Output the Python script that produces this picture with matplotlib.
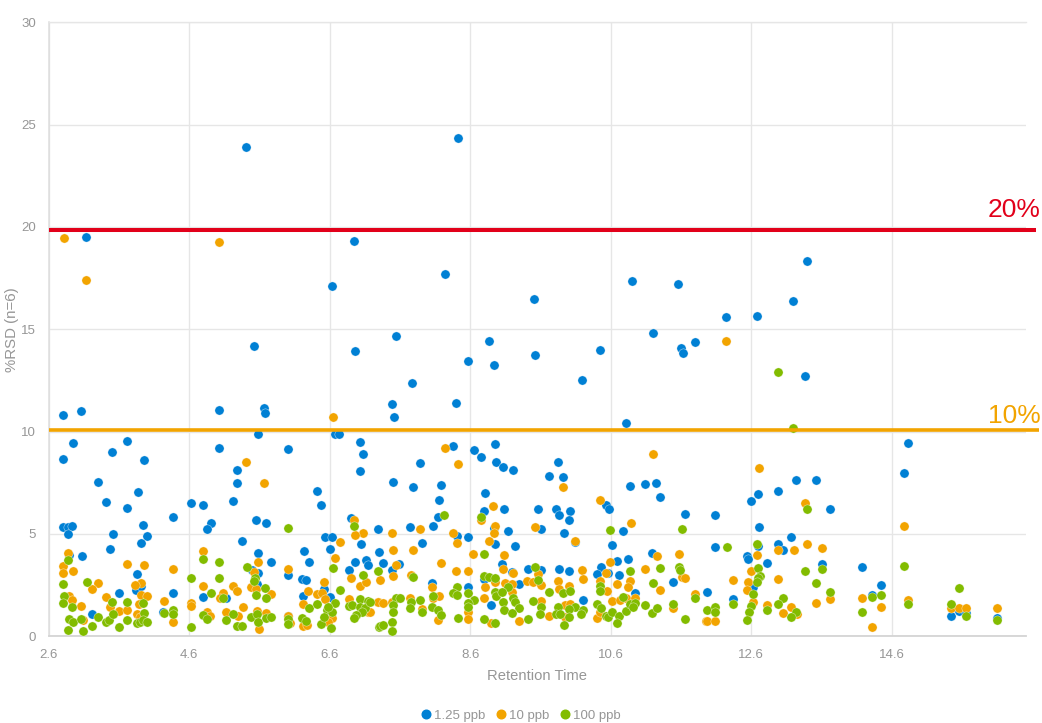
import matplotlib
matplotlib.use('Agg')
import matplotlib.pyplot as plt
from matplotlib.lines import Line2D

plt.rcParams['font.family'] = ['Liberation Sans', 'DejaVu Sans']

# values: (retention time, %RSD)
low_ppb = [
    (5.41, 23.9), (8.43, 24.36), (3.13, 19.53), (6.95, 19.33), (6.63, 17.14), (8.24, 17.72),
    (9.51, 16.5), (10.9, 17.38), (11.56, 17.23), (11.2, 14.8), (11.6, 14.11), (11.63, 13.82),
    (11.8, 14.4), (12.24, 15.58), (12.68, 15.67), (13.2, 16.4), (13.39, 18.36), (13.36, 12.7),
    (5.52, 14.16), (6.96, 13.92), (7.54, 14.65), (7.77, 12.4), (8.57, 13.43), (8.87, 14.45),
    (8.94, 13.28), (9.52, 13.72), (10.19, 12.5), (10.45, 14.0), (7.49, 11.33), (7.52, 10.7),
    (8.4, 11.38), (2.8, 10.8), (3.06, 11.0), (5.02, 11.08), (5.66, 11.14), (5.68, 10.9),
    (10.82, 10.4), (5.58, 9.87), (6.68, 9.9), (6.73, 9.9),
    (2.95, 9.46), (2.8, 8.68), (3.5, 9.02), (3.72, 9.53), (3.95, 8.62), (3.3, 7.56),
    (3.87, 7.06), (3.41, 6.54), (3.72, 6.28), (2.81, 5.33), (2.88, 5.35), (2.93, 5.37),
    (2.88, 4.99), (3.94, 5.43), (3.51, 4.99), (4.0, 4.89), (3.91, 4.55), (3.47, 4.28),
    (3.08, 3.9), (2.89, 3.97), (3.85, 3.06), (3.6, 2.11), (3.84, 2.26), (3.92, 2.47),
    (4.37, 2.11), (4.37, 5.84), (4.62, 6.5), (4.8, 6.42), (5.22, 6.59), (5.02, 9.22),
    (6.01, 9.17), (5.28, 8.11), (5.28, 7.5), (6.42, 7.12), (6.48, 6.42), (4.91, 5.54),
    (4.86, 5.25), (5.55, 5.66), (5.69, 5.54), (5.35, 4.67), (5.58, 4.05), (5.76, 3.61),
    (5.58, 3.07), (6.24, 4.16), (6.3, 3.64), (6.0, 2.98), (6.2, 2.8), (6.26, 2.76),
    (6.52, 2.31), (6.6, 1.93), (6.22, 1.98), (6.53, 4.86), (6.63, 4.83), (6.6, 4.26),
    (7.03, 9.5), (7.07, 8.91), (7.03, 8.07), (6.9, 5.8), (7.28, 5.25), (7.05, 4.49),
    (6.96, 3.64), (7.11, 3.72), (7.15, 3.5), (6.88, 3.24), (7.3, 4.13), (4.8, 1.92),
    (5.13, 1.85), (5.56, 2.54), (5.49, 3.24), (3.22, 1.09), (4.23, 1.2), (6.0, 0.99),
    (8.36, 9.28), (8.95, 9.41), (8.65, 9.09), (8.76, 8.76), (8.96, 8.54), (9.06, 8.28),
    (9.21, 8.13), (7.88, 8.47), (7.5, 7.53), (7.79, 7.3), (8.19, 7.37), (8.16, 6.68),
    (8.14, 5.84), (8.07, 5.37), (7.74, 5.32), (7.91, 4.55), (7.36, 3.56), (7.59, 3.51),
    (7.49, 3.24), (8.41, 4.91), (8.57, 4.83), (8.81, 6.98), (8.79, 6.11), (9.08, 6.21),
    (8.94, 5.3), (8.95, 4.5), (9.14, 5.15), (9.23, 4.42), (9.56, 6.21), (9.61, 5.25),
    (9.82, 6.2), (9.86, 5.93), (10.02, 6.1), (10.01, 5.66), (9.94, 5.07), (9.85, 8.5),
    (9.72, 7.85), (9.92, 7.76), (10.09, 4.62), (10.88, 7.35), (11.09, 7.46), (11.25, 7.5),
    (11.3, 6.81), (10.53, 6.41), (10.58, 6.23), (10.77, 5.15), (10.62, 4.46), (11.65, 5.98),
    (11.18, 4.05), (10.85, 3.76), (10.69, 3.67), (10.46, 3.4), (10.4, 3.02), (10.56, 3.07),
    (10.72, 2.99), (10.94, 2.13), (11.48, 2.65), (11.97, 2.15), (9.42, 3.28), (9.6, 3.24),
    (9.87, 3.28), (10.0, 3.17), (10.2, 1.76), (9.29, 2.55), (9.2, 3.15), (9.05, 3.51),
    (8.57, 2.42), (8.05, 2.59), (8.8, 2.8), (8.89, 1.53),
    (14.83, 9.43), (14.78, 7.97), (13.24, 7.66), (13.52, 7.63), (12.98, 7.12), (12.69, 6.94),
    (12.6, 6.62), (13.72, 6.24), (12.09, 5.92), (12.71, 5.33), (13.16, 4.85), (12.08, 4.37),
    (12.69, 4.41), (12.98, 4.49), (13.05, 4.23), (12.54, 3.93), (12.56, 3.76), (12.83, 3.58),
    (13.61, 3.54), (14.18, 3.4), (14.45, 2.52), (14.32, 2.0), (12.63, 2.42), (12.34, 1.82),
    (15.44, 0.98), (15.55, 1.24), (15.65, 1.15), (16.1, 0.88),
]

mid_ppb = [
    (2.82, 19.44), (3.13, 17.42), (5.03, 19.28), (6.65, 10.7), (12.24, 14.45), (5.41, 8.5),
    (5.66, 7.48), (8.24, 9.18), (8.43, 8.4), (11.2, 8.9),
    (2.88, 4.07), (2.81, 3.45), (2.8, 3.09), (2.95, 3.19), (3.3, 2.62), (3.22, 2.33),
    (3.72, 3.54), (3.95, 3.5), (3.92, 2.62), (3.83, 2.49), (3.91, 2.0), (4.0, 1.97),
    (3.41, 1.92), (2.89, 1.97), (2.93, 1.77), (3.06, 1.5), (3.09, 0.8), (3.47, 1.45),
    (3.6, 1.24), (3.72, 1.3), (3.88, 1.58), (3.85, 1.11), (3.9, 0.96), (4.37, 3.28),
    (4.24, 1.74), (4.37, 0.68), (4.62, 1.61), (4.62, 1.5), (4.8, 4.16), (4.8, 2.47),
    (5.08, 2.11), (5.04, 1.85), (5.22, 2.47), (5.28, 2.2), (4.86, 1.19), (4.9, 0.99),
    (5.12, 1.19), (5.36, 1.41), (5.29, 0.99), (5.58, 3.61), (5.52, 3.15), (5.48, 2.41),
    (5.55, 2.33), (5.76, 2.08), (5.57, 1.24), (5.69, 1.15), (5.59, 0.36), (6.01, 3.28),
    (6.0, 1.0), (6.04, 0.63), (6.22, 1.58), (6.22, 0.5), (6.29, 2.2), (6.28, 0.55),
    (6.52, 2.65), (6.42, 2.08), (6.49, 2.11), (6.53, 1.84), (6.63, 0.88), (6.58, 0.72),
    (6.74, 4.62), (6.68, 3.84), (6.95, 5.67), (7.08, 5.07), (6.96, 4.93), (6.9, 2.85),
    (7.03, 2.46), (7.11, 2.65), (6.88, 1.8), (7.15, 1.2), (7.28, 1.69),
    (7.48, 5.07), (7.5, 4.23), (7.79, 4.2), (7.88, 5.25), (7.55, 3.48), (7.5, 2.96),
    (7.32, 2.76), (7.76, 2.98), (8.19, 3.56), (8.36, 5.07), (8.41, 4.57), (8.64, 4.02),
    (8.4, 3.2), (8.57, 3.2), (8.06, 2.42), (8.81, 2.42), (8.93, 6.37), (8.76, 5.67),
    (8.95, 5.4), (8.94, 5.07), (8.87, 4.67), (9.08, 3.97), (9.06, 3.27), (9.21, 3.1),
    (8.95, 2.67), (9.09, 2.62), (9.19, 2.55), (9.2, 2.15), (8.79, 1.85), (9.52, 5.33),
    (9.41, 2.7), (9.49, 2.67), (9.56, 3.04), (9.61, 2.5), (9.6, 1.74), (9.92, 7.3),
    (10.09, 4.67), (10.19, 3.22), (10.2, 2.8), (9.85, 2.7), (9.86, 2.31), (10.01, 2.46),
    (10.44, 6.65), (10.89, 5.54), (10.59, 3.64), (10.53, 3.07), (10.45, 2.7), (10.69, 2.55),
    (10.55, 2.21), (10.62, 1.74), (10.88, 2.7), (10.85, 2.41), (10.73, 1.77), (10.82, 1.89),
    (10.94, 1.89), (11.09, 3.27), (11.26, 3.93), (11.3, 2.26), (11.57, 4.02), (11.62, 2.89),
    (11.66, 2.86), (11.8, 2.08), (11.48, 1.37), (11.96, 0.75), (7.29, 1.67), (7.36, 1.64),
    (7.48, 1.69), (7.59, 1.85), (7.74, 1.85), (7.17, 1.2), (7.91, 1.33), (8.07, 1.85),
    (8.16, 1.98), (8.14, 0.81), (8.57, 1.2), (8.57, 0.83), (8.89, 0.63), (9.29, 0.76),
    (9.72, 1.0), (9.95, 1.53), (10.02, 1.59), (9.95, 0.96), (10.4, 0.88), (10.44, 1.2),
    (12.71, 8.2), (13.37, 6.5), (12.98, 4.24), (13.21, 4.24), (13.39, 4.52), (13.61, 4.31),
    (12.68, 3.97), (12.6, 3.17), (12.34, 2.76), (12.56, 2.65), (12.54, 2.26), (12.98, 2.81),
    (12.63, 1.67), (12.83, 1.54), (13.16, 1.45), (13.05, 1.14), (13.25, 1.07), (13.52, 1.61),
    (13.72, 1.84), (14.18, 1.85), (14.45, 1.45), (14.32, 0.47), (14.78, 5.37), (14.83, 1.77),
    (11.97, 0.75), (12.08, 0.73), (15.44, 1.4), (15.55, 1.4), (15.65, 1.4), (16.1, 1.4),
]

high_ppb = [
    (12.98, 12.89), (13.2, 10.2),
    (2.88, 3.71), (6.01, 5.3), (2.8, 2.55), (3.14, 2.65), (2.82, 1.97), (2.81, 1.61),
    (2.93, 1.41), (2.89, 0.86), (2.95, 0.68), (3.06, 0.86), (2.88, 0.31), (3.09, 0.24),
    (3.22, 0.49), (3.3, 0.94), (3.41, 0.68), (3.46, 0.8), (3.51, 1.07), (3.5, 1.67),
    (3.6, 0.44), (3.72, 1.67), (3.72, 0.8), (3.94, 1.61), (3.95, 1.12), (3.85, 0.63),
    (3.9, 0.72), (3.94, 0.8), (4.0, 0.68), (4.24, 1.12), (4.37, 1.28), (4.37, 1.07),
    (4.62, 2.83), (4.62, 0.44), (4.8, 3.76), (4.91, 2.11), (4.8, 1.06), (4.86, 0.85),
    (5.02, 3.64), (5.02, 2.83), (5.08, 1.89), (5.13, 0.8), (5.22, 1.09), (5.28, 0.52),
    (5.35, 0.52), (5.42, 3.37), (5.53, 2.83), (5.52, 2.7), (5.68, 2.37), (5.55, 2.0),
    (5.69, 1.89), (5.48, 0.94), (5.57, 1.07), (5.58, 0.72), (5.69, 0.88), (5.76, 0.96),
    (6.01, 0.83), (6.0, 0.62), (6.2, 0.88), (6.26, 0.76), (6.3, 1.38), (6.42, 1.58),
    (6.48, 0.62), (6.64, 3.32), (6.74, 2.24), (6.68, 1.61), (6.56, 1.28), (6.63, 1.2),
    (6.52, 0.96), (6.62, 0.39), (6.58, 1.45), (6.95, 5.38), (7.08, 2.99), (7.03, 1.84),
    (7.15, 1.71), (6.87, 1.5), (6.92, 1.53), (7.03, 1.45), (7.1, 1.37), (7.06, 1.2),
    (6.98, 1.04), (6.95, 0.91), (7.29, 3.17), (7.3, 0.47),
    (8.23, 5.95), (8.76, 5.84), (8.8, 4.02), (7.79, 2.89), (10.59, 5.19), (11.62, 5.24),
    (9.52, 3.4), (9.56, 2.75), (8.8, 2.94), (8.87, 2.89), (8.95, 2.83), (9.14, 2.39),
    (8.41, 2.39), (8.35, 2.1), (8.41, 2.02), (8.57, 2.1), (8.65, 1.77), (8.57, 1.64),
    (8.57, 1.45), (8.07, 1.98), (8.06, 1.45), (8.14, 1.28), (8.19, 1.04), (8.42, 0.91),
    (7.88, 1.77), (7.76, 1.69), (7.74, 1.4), (7.91, 1.2), (7.54, 1.85), (7.6, 1.85),
    (7.5, 1.53), (7.5, 1.17), (7.48, 0.72), (7.31, 0.5), (7.36, 0.55), (7.49, 0.24),
    (7.17, 1.69), (8.79, 0.86), (8.95, 0.67), (8.95, 2.18), (8.97, 1.98), (9.05, 2.15),
    (9.06, 1.67), (9.21, 1.89), (9.23, 1.66), (9.29, 1.4), (9.08, 1.27), (9.2, 1.14),
    (9.42, 0.86), (9.49, 1.71), (9.61, 1.41), (9.59, 1.09), (9.72, 2.18), (9.85, 1.45),
    (9.82, 1.09), (9.88, 1.09), (9.92, 2.11), (10.02, 2.23), (10.09, 1.45), (10.0, 1.32),
    (10.0, 0.93), (9.94, 0.54), (10.2, 1.27), (10.18, 1.07), (10.44, 2.47), (10.45, 2.23),
    (10.4, 1.56), (10.46, 1.37), (10.53, 1.0), (10.56, 0.96), (10.62, 1.17), (10.72, 0.99),
    (10.69, 0.67), (10.77, 1.93), (10.88, 3.2), (10.82, 1.24), (10.87, 1.58), (10.94, 1.61),
    (10.92, 1.45), (11.09, 1.53), (11.18, 1.14), (11.26, 1.4), (11.2, 2.59), (11.3, 3.32),
    (11.48, 1.56), (11.65, 0.83), (11.57, 3.4), (11.59, 3.24), (11.8, 1.85), (11.97, 1.27),
    (13.39, 6.21), (12.25, 4.37), (12.68, 4.52), (12.7, 3.32), (12.72, 2.94), (12.7, 2.83),
    (12.68, 2.67), (12.62, 2.05), (12.6, 1.5), (12.57, 1.2), (12.54, 0.8), (12.34, 1.58),
    (12.08, 1.41), (12.09, 1.19), (12.83, 1.27), (13.05, 1.85), (12.98, 1.56), (13.24, 1.17),
    (13.16, 0.93), (13.37, 3.17), (13.52, 2.62), (13.61, 3.27), (13.72, 2.15), (14.18, 1.2),
    (14.32, 1.92), (14.45, 2.0), (14.78, 3.43), (14.83, 1.59), (15.55, 2.37), (15.44, 1.56),
    (15.65, 1.01), (16.1, 0.8),
]

series_names = ['1.25 ppb', '10 ppb', '100 ppb']
series_colors = ['#0080d4', '#f2a400', '#82bc00']
x_ticks = [2.6, 4.6, 6.6, 8.6, 10.6, 12.6, 14.6]
y_ticks = [0, 5, 10, 15, 20, 25, 30]
limit_20 = 19.87
limit_10 = 10.06

grey = '#969696'
grid_grey = '#e6e6e6'

fig = plt.figure(figsize=(10.42, 7.23), dpi=100)
ax = fig.add_axes([48.7 / 1042, (723 - 636.3) / 723, (1026 - 48.7) / 1042, (636.3 - 22.3) / 723])

for points, name, color in zip([low_ppb, mid_ppb, high_ppb], series_names, series_colors):
    xs = [p[0] for p in points]
    ys = [p[1] for p in points]
    ax.scatter(xs, ys, s=44, color=color, edgecolors='white', linewidths=0.25, zorder=3, label=name, clip_on=False)

ax.set_xlim(2.6, 16.51)
ax.set_ylim(0, 30)
ax.set_xticks(x_ticks)
ax.set_xticklabels([f'{t:.1f}' for t in x_ticks])
ax.set_yticks(y_ticks)
ax.grid(True, color=grid_grey, linewidth=1.0, zorder=0)
ax.set_axisbelow(True)
ax.spines['right'].set_visible(False)
ax.spines['top'].set_color(grid_grey)
ax.spines['top'].set_linewidth(1.0)
ax.spines['left'].set_color('#dedede')
ax.spines['left'].set_linewidth(1.1)
ax.spines['bottom'].set_color('#d4d4d4')
ax.spines['bottom'].set_linewidth(1.3)
ax.tick_params(length=0, labelsize=9.5, labelcolor=grey, pad=9)
ax.set_xlabel('Retention Time', fontsize=10.6, color=grey, labelpad=6)
ax.set_ylabel('%RSD (n=6)', fontsize=10.8, color=grey, labelpad=2)

# limit lines run a little past the plot area
ax.plot([2.6, 16.65], [limit_20, limit_20], color='#e2001a', linewidth=2.9, clip_on=False, zorder=4, solid_capstyle='butt')
ax.plot([2.6, 16.69], [limit_10, limit_10], color='#f2a400', linewidth=2.6, clip_on=False, zorder=4, solid_capstyle='butt')
ax.text(16.72, limit_20 + 0.35, '20%', color='#e2001a', fontsize=19, ha='right', va='bottom', clip_on=False)
ax.text(16.72, limit_10 + 0.13, '10%', color='#f2a400', fontsize=19, ha='right', va='bottom', clip_on=False)

handles = [Line2D([], [], linestyle='', marker='o', markersize=6.2, color=c) for c in series_colors]
fig.legend(handles, series_names, loc='lower center', bbox_to_anchor=(0.499, -0.0145), ncol=3, frameon=False,
           fontsize=9.5, labelcolor=grey, handlelength=1, handletextpad=0.1, columnspacing=0.7)

fig.savefig('out.png', dpi=100)
